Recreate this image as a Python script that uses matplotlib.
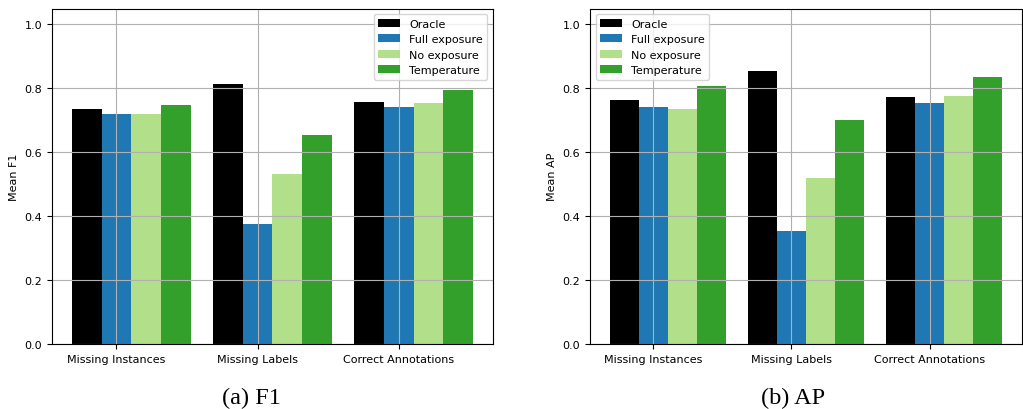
import matplotlib
matplotlib.use("Agg")
import matplotlib.pyplot as plt
import numpy as np

categories = ["Missing Instances", "Missing Labels", "Correct Annotations"]
methods = ["Oracle", "Full exposure", "No exposure", "Temperature"]
colors = ["#000000", "#1f78b4", "#b2df8a", "#33a02c"]

f1_oracle = [0.737, 0.814, 0.758]
f1_full = [0.719, 0.375, 0.742]
f1_none = [0.719, 0.533, 0.755]
f1_temp = [0.749, 0.654, 0.796]

ap_oracle = [0.764, 0.856, 0.773]
ap_full = [0.742, 0.353, 0.754]
ap_none = [0.737, 0.519, 0.776]
ap_temp = [0.808, 0.701, 0.836]

yticks = [0.0, 0.2, 0.4, 0.6, 0.8, 1.0]

plt.rcParams["font.family"] = "DejaVu Sans"
plt.rcParams["axes.axisbelow"] = "line"

fig = plt.figure(figsize=(10.23, 4.10), dpi=100)
ax1 = fig.add_axes([0.0508, 0.1585, 0.4311, 0.8183])
ax2 = fig.add_axes([0.5767, 0.1585, 0.4223, 0.8183])

width = 0.21


def draw(ax, series, ylabel, legend_loc):
    x = np.arange(len(categories))
    for i, (vals, name, c) in enumerate(zip(series, methods, colors)):
        ax.bar(x + (i - 1) * width, vals, width, color=c, label=name)
    ax.set_xticks(x)
    ax.set_xticklabels(categories, fontsize=8)
    ax.set_yticks(yticks)
    ax.set_yticklabels([f"{v:.1f}" for v in yticks], fontsize=8)
    ax.set_ylim(0, 1.05)
    ax.set_ylabel(ylabel, fontsize=8)
    ax.grid(True, color="#b0b0b0", linewidth=0.8)
    ax.tick_params(direction="out", length=3.5, width=0.8)
    for s in ax.spines.values():
        s.set_linewidth(0.8)
    ax.legend(loc=legend_loc, fontsize=8, framealpha=0.8, edgecolor="#cccccc",
              fancybox=True)


draw(ax1, [f1_oracle, f1_full, f1_none, f1_temp], "Mean F1", "upper right")
draw(ax2, [ap_oracle, ap_full, ap_none, ap_temp], "Mean AP", "upper left")

fig.text(0.2453, 0.028, "(a) F1", family="Liberation Serif", fontsize=17.5,
         ha="center", va="center")
fig.text(0.7752, 0.028, "(b) AP", family="Liberation Serif", fontsize=17.5,
         ha="center", va="center")

fig.savefig("out.png", dpi=100)
